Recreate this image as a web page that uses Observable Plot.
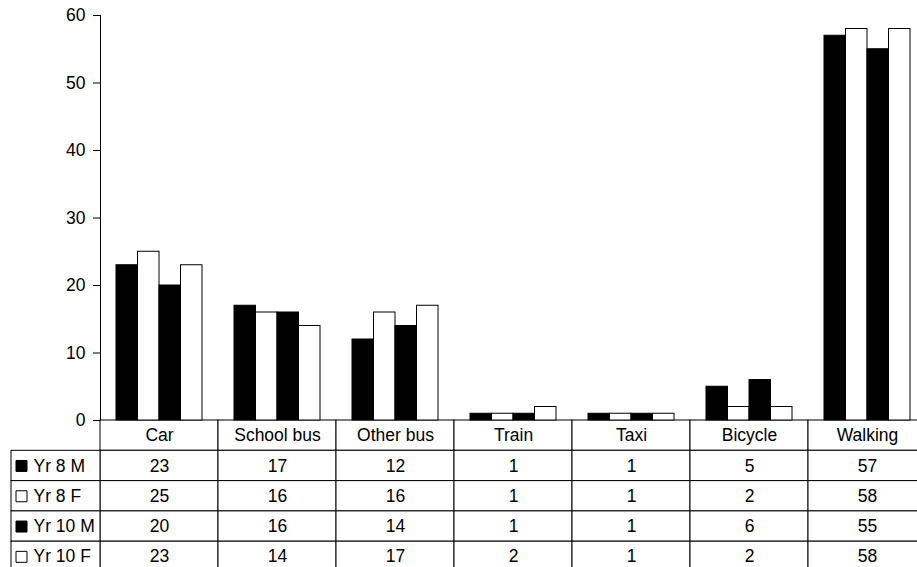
<!DOCTYPE html>
<html><head><meta charset="utf-8">
<script src="https://cdn.jsdelivr.net/npm/d3@7"></script>
<script src="https://cdn.jsdelivr.net/npm/@observablehq/plot@0.6"></script>
<style>
html,body{margin:0;padding:0;background:#fff;overflow:hidden;}
#wrap{position:relative;width:926px;height:567px;overflow:hidden;}
#wrap svg{position:absolute;left:0;max-width:none !important;background:transparent !important;}
</style></head><body><div id="wrap"></div>
<script>
// ---- data ----
const categories = ["Car", "School bus", "Other bus", "Train", "Taxi", "Bicycle", "Walking"];
const seriesNames = ["Yr 8 M", "Yr 8 F", "Yr 10 M", "Yr 10 F"];
const seriesColors = ["black", "white", "black", "white"];
const yr8M  = [23, 17, 12, 1, 1, 5, 57];
const yr8F  = [25, 16, 16, 1, 1, 2, 58];
const yr10M = [20, 16, 14, 1, 1, 6, 55];
const yr10F = [23, 14, 17, 2, 1, 2, 58];
const yTicks = [0, 10, 20, 30, 40, 50, 60];

const seriesValues = [yr8M, yr8F, yr10M, yr10F];
const records = seriesNames.flatMap((s, i) =>
  categories.map((c, j) => ({series: s, category: c, value: seriesValues[i][j]})));
const HEADER = "header";
const rows = [HEADER, ...seriesNames];
const grid = rows.flatMap(r => categories.map(c => ({row: r, category: c})));

const FONT = '"Liberation Sans", Arial, sans-serif';
const style = {fontFamily: FONT, fontSize: "17.5px", background: "transparent", color: "black", overflow: "visible"};
const W = 926;
const wrap = document.getElementById("wrap");

// ---- table (data cells) ----
const tableOpts = {height: 156, marginTop: 1, marginBottom: 3.5};
const B = Plot.plot({
  width: W, ...tableOpts, marginLeft: 100, marginRight: 0, style,
  x: {domain: categories, padding: 0, round: false, axis: null},
  y: {domain: rows, padding: 0, round: false, axis: null},
  marks: [
    Plot.cell(grid, {x: "category", y: "row", fill: "white", stroke: "black", inset: 0}),
    Plot.text(categories, {x: d => d, y: () => HEADER, text: d => d, fill: "black"}),
    Plot.text(records, {x: "category", y: "series", text: "value", fill: "black"})
  ]
});
B.style.top = "419px";
wrap.appendChild(B);

// ---- table (row headers / legend) ----
const C = Plot.plot({
  width: 101, ...tableOpts, marginLeft: 11, marginRight: 1, style,
  y: {domain: rows, padding: 0, round: false, axis: null},
  color: {domain: seriesNames, range: seriesColors},
  marks: [
    Plot.cell(seriesNames, {y: d => d, fill: "white", stroke: "black", inset: 0}),
    Plot.dot(seriesNames, {y: d => d, frameAnchor: "left", dx: 10, symbol: "square", r: 6.2, fill: d => d, stroke: "black", strokeWidth: 1}),
    Plot.text(seriesNames, {y: d => d, frameAnchor: "left", dx: 22, textAnchor: "start", text: d => d, fill: "black"})
  ]
});
C.style.top = "419px";
wrap.appendChild(C);

// ---- bar chart ----
const A = Plot.plot({
  width: W, height: 430, marginTop: 15, marginBottom: 10, marginLeft: 100, marginRight: 0, style,
  fx: {domain: categories, paddingInner: 0, paddingOuter: 0, round: false, axis: null, label: null},
  x: {domain: seriesNames, paddingInner: 0, paddingOuter: 0.744, round: false, axis: null, label: null},
  y: {domain: [0, 60], ticks: yTicks, tickSize: 7, tickPadding: 8, label: null, tickFormat: d => String(d)},
  color: {domain: seriesNames, range: seriesColors},
  marks: [
    Plot.barY(records, {fx: "category", x: "series", y: "value", fill: "series", stroke: "black", strokeWidth: 1})
  ]
});
A.style.top = "0px";
wrap.appendChild(A);

// y-axis line, positioned through the plot's own scales
let x0 = 100, yTop = 15, yBot = 420;
try {
  const fxS = A.scale("fx"), yS = A.scale("y");
  x0 = fxS.apply(categories[0]);
  yTop = yS.apply(yTicks[yTicks.length - 1]);
  yBot = yS.apply(yTicks[0]);
} catch (e) {}
d3.select(A).append("line")
  .attr("x1", x0 + 0.5).attr("x2", x0 + 0.5)
  .attr("y1", yTop).attr("y2", yBot + 0.5)
  .attr("stroke", "black").attr("stroke-width", 1);
</script>
</body></html>
